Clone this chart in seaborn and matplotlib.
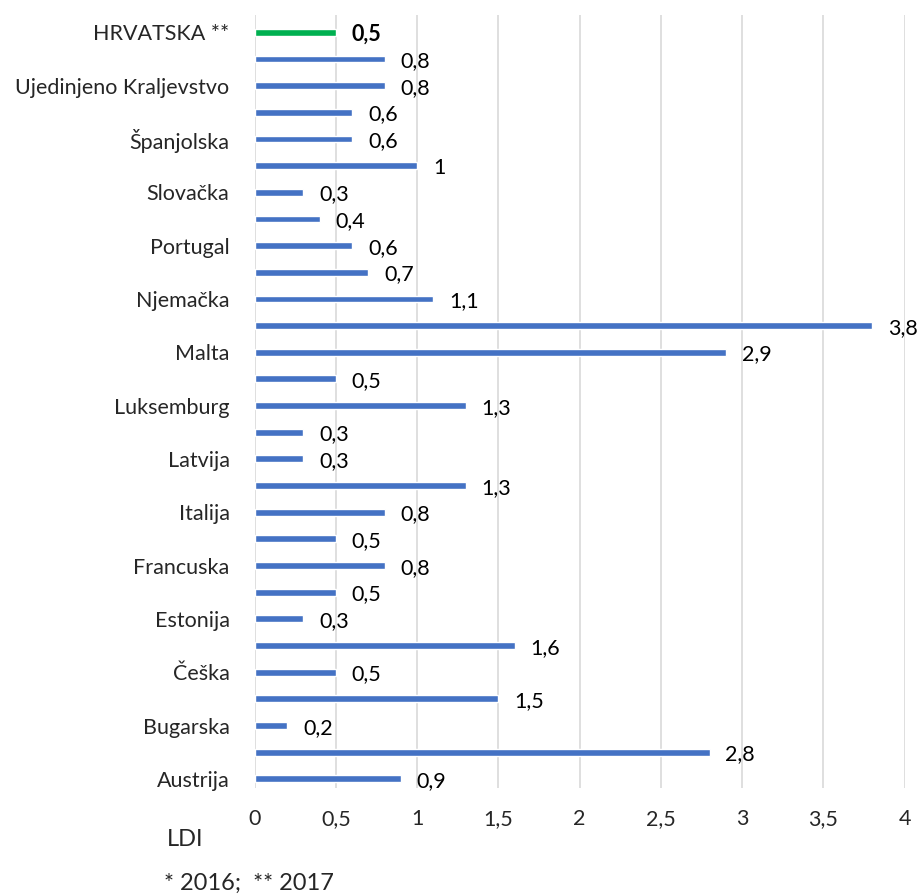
import pandas as pd
import seaborn as sns
import matplotlib.pyplot as plt

# categories from top to bottom (Excel shows every other label)
countries = ["HRVATSKA **", "EU-28 *", "Ujedinjeno Kraljevstvo", "Švedska",
             "Španjolska", "Slovenija", "Slovačka", "Rumunjska", "Portugal",
             "Poljska", "Njemačka", "Nizozemska", "Malta", "Mađarska",
             "Luksemburg", "Litva", "Latvija", "Irska", "Italija", "Grčka",
             "Francuska", "Finska", "Estonija", "Danska", "Češka", "Cipar",
             "Bugarska", "Belgija", "Austrija"]
ldi = [0.5, 0.8, 0.8, 0.6, 0.6, 1.0, 0.3, 0.4, 0.6, 0.7, 1.1, 3.8, 2.9,
       0.5, 1.3, 0.3, 0.3, 1.3, 0.8, 0.5, 0.8, 0.5, 0.3, 1.6, 0.5, 1.5,
       0.2, 2.8, 0.9]
x_ticks = [0, 0.5, 1, 1.5, 2, 2.5, 3, 3.5, 4]

BLUE = "#4472C4"
GREEN = "#00B050"
FS = 15.5


def fmt(v: float) -> str:
    s = f"{v:g}"
    return s.replace(".", ",")


def main():
    df = pd.DataFrame({"country": countries, "LDI": ldi})
    palette = {c: (GREEN if c.startswith("HRVATSKA") else BLUE)
               for c in countries}

    sns.set_theme(style="white")
    plt.rcParams["font.family"] = ["Lato", "DejaVu Sans"]

    fig = plt.figure(figsize=(9.22, 8.94), dpi=100)
    ax = fig.add_axes([254.5 / 922, 0.1186, 650 / 922, 0.8646])

    sns.barplot(data=df, x="LDI", y="country", hue="country",
                palette=palette, legend=False, width=0.26, saturation=1,
                orient="h", ax=ax)

    ax.set_xlim(0, 4)
    ax.set_ylim(28.34, -0.65)
    ax.set_xticks(x_ticks)
    ax.set_xticklabels([fmt(t) for t in x_ticks], fontsize=FS)
    ax.set_yticks(range(len(countries)))
    ax.set_yticklabels([c if i % 2 == 0 else "" for i, c in
                        enumerate(countries)], fontsize=FS)
    ax.tick_params(axis="y", length=0, pad=18)
    ax.tick_params(axis="x", length=0, pad=15)
    ax.set_xlabel("")
    ax.set_ylabel("")
    ax.grid(axis="x", color="#d9d9d9", linewidth=1.2)
    ax.set_axisbelow(True)
    sns.despine(ax=ax, left=True, bottom=True)

    for bar in ax.patches:
        w = bar.get_width()
        y = bar.get_y() + bar.get_height() / 2
        hr = y < 0.5
        ax.annotate(fmt(w), (w, y), xytext=(11.5, -1.5),
                    textcoords="offset points", va="center", ha="left",
                    fontsize=FS, fontweight="bold" if hr else "normal",
                    color="black", annotation_clip=False)

    fig.text(167 / 922, 1 - 839 / 894, "LDI", fontsize=17, va="center")
    fig.text(164 / 922, 1 - 883 / 894, "* 2016;  ** 2017", fontsize=17,
             va="center")

    plt.savefig("out.png", dpi=100)


if __name__ == "__main__":
    main()
